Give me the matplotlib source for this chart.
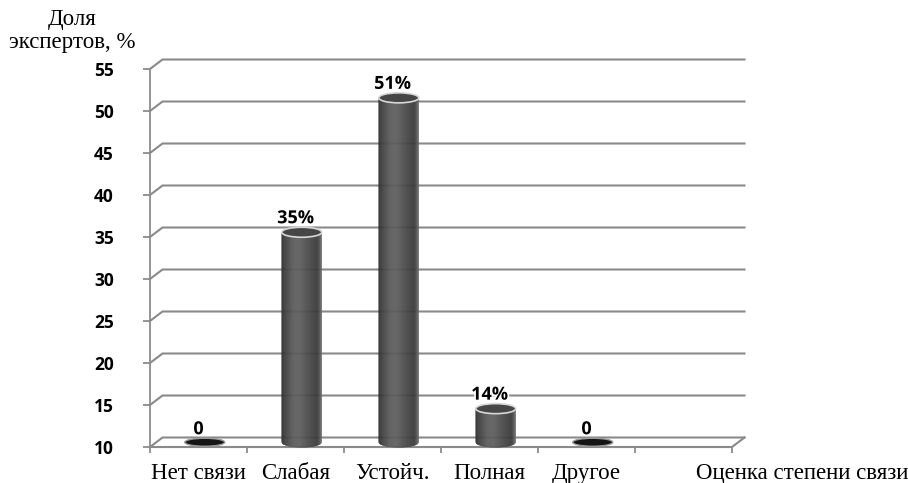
import numpy as np
import matplotlib
matplotlib.use("Agg")
import matplotlib.pyplot as plt
from matplotlib.patches import Polygon, Ellipse
from matplotlib.lines import Line2D
import matplotlib.patheffects as pe
import matplotlib.transforms as mtransforms

# ---- data ----
categories = ["Нет связи", "Слабая", "Устойч.", "Полная", "Другое"]
values = [0, 35, 51, 14, 0]
value_labels = ["0", "35%", "51%", "14%", "0"]
y_ticks = [10, 15, 20, 25, 30, 35, 40, 45, 50, 55]
x_title = "Оценка степени связи"
y_title = "Доля\nэкспертов, %"
n_slots = 6

W, H = 908, 483
fig = plt.figure(figsize=(W / 100, H / 100), dpi=100)
ax = fig.add_axes([150 / W, (H - 447) / H, (732 - 150) / W, (447 - 69) / H])
ymin, ymax = y_ticks[0], y_ticks[-1]
for s in ["top", "right", "bottom"]:
    ax.spines[s].set_visible(False)
ax.spines["left"].set_color("#8c8c8c")
ax.spines["left"].set_linewidth(1.3)
ax.set_facecolor("none")

LABEL_PAD = 11.5
# ticks
ax.set_yticks(y_ticks)
ax.set_yticklabels([str(t) for t in y_ticks], fontfamily="Open Sans",
                   fontweight="bold", fontsize=12.5)
ax.tick_params(axis="y", length=5, width=1.3, color="#8c8c8c", pad=21)
ax.set_xticks(range(n_slots + 1))
ax.set_xticklabels([])
ax.tick_params(axis="x", length=4, width=1.3, color="#8c8c8c")
ax.set_xticks([i + 0.5 for i in range(len(categories))], minor=True)
ax.set_xticklabels(categories, minor=True,
                   fontfamily="Liberation Serif", fontsize=16.5)
ax.tick_params(axis="x", which="minor", length=0, pad=LABEL_PAD)

ax.set_xlim(0, n_slots)
ax.set_ylim(ymin, ymax)

blend = mtransforms.blended_transform_factory(ax.transData, ax.transAxes)
ax.annotate(x_title, xy=(6.72, 0), xycoords=blend, xytext=(0, -LABEL_PAD),
            textcoords="offset points", ha="center", va="top",
            fontfamily="Liberation Serif", fontsize=16.5, annotation_clip=False)

# depth offsets (pixels) -> data units
DX_PX, DY_PX = 12.5, 9.5
px_per_x = ax.bbox.width / n_slots
px_per_y = ax.bbox.height / (ymax - ymin)
DXD, DYD = DX_PX / px_per_x, DY_PX / px_per_y

grid_c = "#8a8a8a"
for v in y_ticks:
    ax.add_line(Line2D([0, DXD, n_slots + DXD], [v, v + DYD, v + DYD],
                       color=grid_c, lw=1.5, clip_on=False, zorder=1))
ax.add_line(Line2D([0, n_slots, n_slots + DXD], [ymin, ymin, ymin + DYD],
                   color=grid_c, lw=1.5, clip_on=False, zorder=1))

fig.text(72 / W, 1 - 31 / H, y_title, ha="center", va="center",
         fontfamily="Liberation Serif", fontsize=16.5, linespacing=1.15)

# cylinders
bw = 40 / px_per_x
eh = 10 / px_per_y
nstrip = 40
prof_t = np.array([0.0, 0.1, 0.3, 0.45, 0.7, 0.9, 0.97, 1.0])
prof_c = np.array([0.18, 0.25, 0.36, 0.37, 0.28, 0.22, 0.35, 0.45])
for i, v in enumerate(values):
    cx = i + 0.5 + DXD / 2
    base = ymin + DYD / 2
    if v <= ymin:
        zh = eh * 0.8
        ax.add_patch(Ellipse((cx, base), bw, zh, facecolor="#151515",
                             edgecolor="#9a9a9a", lw=1.0, zorder=3,
                             clip_on=False))
        label_y = base + zh / 2
    else:
        top = v + DYD / 2
        edges = np.linspace(cx - bw / 2, cx + bw / 2, nstrip + 1)

        def bot(x):
            r = np.clip((x - cx) / (bw / 2), -1, 1)
            return base - eh / 2 * np.sqrt(1 - r * r)
        for k in range(nstrip):
            x0, x1 = edges[k], edges[k + 1]
            t = (k + 0.5) / nstrip
            g = np.interp(t, prof_t, prof_c)
            ax.add_patch(Polygon([[x0, top], [x0, bot(x0)], [x1, bot(x1)], [x1, top]],
                                 closed=True, facecolor=(g, g, g),
                                 edgecolor=(g, g, g), lw=0.3, zorder=3,
                                 clip_on=False))
        ax.add_patch(Ellipse((cx, top), bw, eh, facecolor="#464646",
                             edgecolor="#d8d8d8", lw=1.2, zorder=4,
                             clip_on=False))
        label_y = top + eh / 2
    ax.text(i + 0.5, label_y, value_labels[i], ha="center", va="bottom",
            fontfamily="Open Sans", fontweight="bold", fontsize=13, zorder=6,
            path_effects=[pe.withStroke(linewidth=2.5, foreground="white")])

fig.savefig("out.png", dpi=100)
